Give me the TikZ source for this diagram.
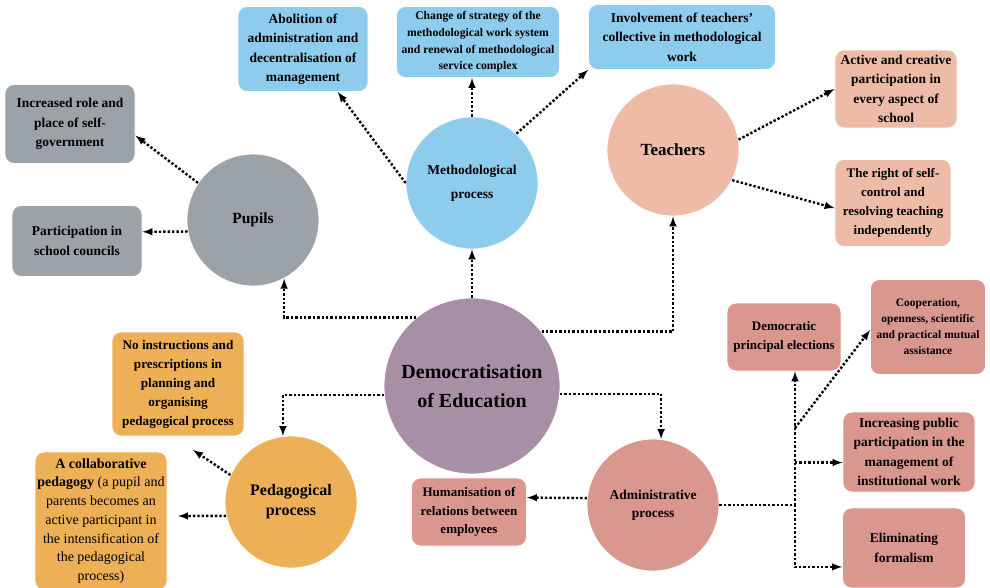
\documentclass[tikz,border=0pt]{standalone}
\usepackage{fontspec}
\setmainfont{Liberation Serif}
\usepackage{xcolor}
\usetikzlibrary{arrows}
\usetikzlibrary{math}

\definecolor{eduMauve}{HTML}{A78FA6}
\definecolor{pupGrey}{HTML}{9BA3A9}
\definecolor{methBlue}{HTML}{8ECCEE}
\definecolor{teachPeach}{HTML}{EDBBA6}
\definecolor{pedOrange}{HTML}{EDB057}
\definecolor{admRose}{HTML}{DA978E}

\tikzset{
hub/.style={circle, draw=white, line width=0.8pt, align=center, inner sep=0pt},
leaf/.style={rectangle, rounded corners=9pt, draw=white, line width=0.8pt, align=center, inner sep=2pt, font=\bfseries\fontsize{13.5}{19.5}\selectfont},
link/.style={line width=2.4pt, dash pattern=on 2.4pt off 2pt, -latex},
dotline/.style={line width=2.4pt, dash pattern=on 2.4pt off 2pt},
}

\begin{document}
\begin{tikzpicture}[x=1pt,y=-1pt]
\tikzmath{
\Rhub=132;
\Redu=176;
}
\useasboundingbox (0,0) rectangle (990,587);

\node[hub, fill=eduMauve, minimum size=\Redu pt, font=\bfseries\fontsize{20}{29}\selectfont] (edu) at (472,386) {Democratisation\\of Education};
\node[hub, fill=pupGrey, minimum size=\Rhub pt, font=\bfseries\fontsize{15.5}{20}\selectfont] (pupils) at (253,220) {Pupils};
\node[hub, fill=methBlue, minimum size=\Rhub pt, font=\bfseries\fontsize{13.5}{24}\selectfont] (method) at (472,183) {Methodological\\process};
\node[hub, fill=teachPeach, minimum size=\Rhub pt, font=\bfseries\fontsize{17}{20}\selectfont] (teach) at (673,150) {Teachers};
\node[hub, fill=pedOrange, minimum size=\Rhub pt, font=\bfseries\fontsize{16}{20}\selectfont] (ped) at (291,502) {Pedagogical\\process};
\node[hub, fill=admRose, minimum size=\Rhub pt, font=\bfseries\fontsize{13.5}{17.5}\selectfont] (admin) at (653,505) {Administrative\\process};

% methodological
\node[leaf, fill=methBlue, minimum width=130pt, minimum height=85pt] (abol) at (303,49) {Abolition of\\administration and\\decentralisation of\\management};
\node[leaf, fill=methBlue, minimum width=163pt, minimum height=71pt, font=\bfseries\fontsize{11.7}{16.7}\selectfont] (change) at (478,42) {Change of strategy of the\\methodological work system\\and renewal of methodological\\service complex};
\node[leaf, fill=methBlue, minimum width=187pt, minimum height=65pt] (invol) at (682,37) {Involvement of teachers'\\collective in methodological\\work};

% pupils
\node[leaf, fill=pupGrey, minimum width=130pt, minimum height=79pt] (selfgov) at (70,124) {Increased role and\\place of self-\\government};
\node[leaf, fill=pupGrey, minimum width=130pt, minimum height=71pt] (council) at (77,241) {Participation in\\school councils};

% teachers
\node[leaf, fill=teachPeach, minimum width=122pt, minimum height=78pt] (active) at (896,89) {Active and creative\\participation in\\every aspect of\\school};
\node[leaf, fill=teachPeach, minimum width=116pt, minimum height=87pt, font=\bfseries\fontsize{13}{19}\selectfont] (selfctl) at (893,203) {The right of self-\\control and\\resolving teaching\\independently};

% administrative
\node[leaf, fill=admRose, minimum width=114pt, minimum height=68pt, font=\bfseries\fontsize{13}{19}\selectfont] (elect) at (784,337) {Democratic\\principal elections};
\node[leaf, fill=admRose, minimum width=115pt, minimum height=95pt, font=\bfseries\fontsize{11.5}{16}\selectfont] (coop) at (928,327) {Cooperation,\\openness, scientific\\and practical mutual\\assistance};
\node[leaf, fill=admRose, minimum width=132pt, minimum height=80pt] (public) at (909,452) {Increasing public\\participation in the\\management of\\institutional work};
\node[leaf, fill=admRose, minimum width=123pt, minimum height=80pt] (formal) at (904,548) {Eliminating\\formalism};
\node[leaf, fill=admRose, minimum width=115pt, minimum height=68pt, font=\bfseries\fontsize{13}{18.5}\selectfont] (human) at (469,512) {Humanisation of\\relations between\\employees};

% pedagogical
\node[leaf, fill=pedOrange, minimum width=132pt, minimum height=104pt, font=\bfseries\fontsize{13.2}{19}\selectfont] (plan) at (178,384) {No instructions and\\prescriptions in\\planning and\\organising\\pedagogical process};
\node[leaf, fill=pedOrange, minimum width=132pt, minimum height=138pt, font=\fontsize{14}{18.7}\selectfont] (collab) at (101,521) {\textbf{A collaborative}\\\textbf{pedagogy} (a pupil and\\parents becomes an\\active participant in\\the intensification of\\the pedagogical\\process)};

\coordinate (plantip) at (193,450);
\coordinate (collabtip) at (178,516);
\coordinate (fork) at (795,505);
\coordinate (forkup) at (795,428);

\draw[link] (edu.129) -| (pupils.-62);
\draw[link] (edu.north) -- (method.south);
\draw[link] (edu.38) -| (teach.south);
\draw[link] (edu.186) -| (ped.97);
\draw[link] (edu.-5) -| (admin.83);

\draw[link] (pupils.146) -- (selfgov.-10);
\draw[link] (pupils.190) -- (council.8);

\draw[link] (method.west) -- (abol.-51.5);
\draw[link] (method.north) -- (method.north |- change.south);
\draw[link] (method.48) -- (invol.south west);

\draw[link] (teach.9) -- (active.west);
\draw[link] (teach.-27) -- (selfctl.185);

\draw[link] (ped.156) -- (plantip);
\draw[link] (ped.192) -- (collabtip);

\draw[link] (admin.174) -- (human.14);
\draw[dotline] (admin.east) -- (fork);
\draw[link] (fork) -- (fork |- elect.south);
\draw[link] (fork) |- (formal.197);
\draw[link] (fork |- public.189) -- (public.189);
\draw[link] (forkup) -- (coop.183);
\end{tikzpicture}
\end{document}
